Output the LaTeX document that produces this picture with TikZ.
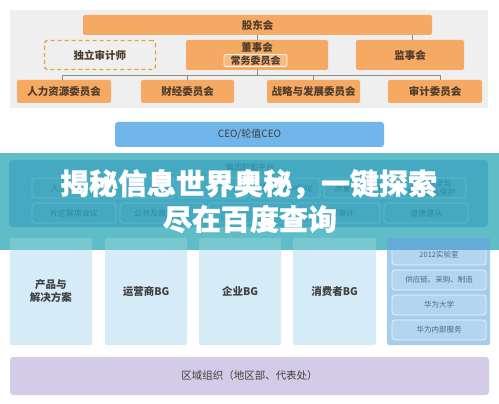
\documentclass[tikz,border=0pt]{standalone}
\usepackage{fontspec}
\setmainfont{Noto Sans CJK SC}
\newfontfamily\titlefont[FakeBold=1.1]{Noto Sans CJK SC}
\usetikzlibrary{calc}
\definecolor{orgfill}{HTML}{F5A962}
\definecolor{orgtext}{HTML}{4E3C2C}
\definecolor{toppanel}{HTML}{EFEFEF}
\definecolor{dashcol}{HTML}{E2A53A}
\definecolor{ceoblue}{HTML}{70B6EA}
\definecolor{bgblue}{HTML}{D5EBF8}
\definecolor{colblue}{HTML}{A6CDEC}
\definecolor{colinner}{HTML}{B3D5F0}
\definecolor{coltext}{HTML}{4A6A88}
\definecolor{regionfill}{HTML}{D4CCE6}
\definecolor{bandteal}{HTML}{5FBDC7}
\definecolor{bandstrip}{HTML}{78C8D1}
\definecolor{panelteal}{HTML}{45AAC1}
\definecolor{panelbox}{HTML}{62BBCD}
\definecolor{paneltext}{HTML}{2C8AA2}
\definecolor{linegray}{HTML}{8C8C8C}
\tikzset{
  obox/.style={fill=orgfill, rounded corners=2pt, inner sep=0pt, text=orgtext, font=\fontsize{10.5}{12}\selectfont\bfseries},
  dashbox/.style={draw=dashcol, dashed, dash pattern=on 4pt off 3pt, line width=1.3pt, fill=toppanel, rounded corners=3pt, inner sep=0pt, text=orgtext, font=\fontsize{10.5}{12}\selectfont\bfseries},
  innerbox/.style={fill=orgfill!80!white, draw=white!90!orgfill, line width=0.8pt, rounded corners=2pt, inner sep=0pt, text=orgtext, font=\fontsize{10}{12}\selectfont\bfseries},
  conn/.style={draw=linegray, line width=0.8pt},
  ceobox/.style={fill=ceoblue, rounded corners=3pt, inner sep=0pt, text=black!75, font=\fontsize{10}{12}\selectfont},
  bgbox/.style={fill=bgblue, rounded corners=2pt, inner sep=0pt, text=black!75, font=\fontsize{10.5}{13}\selectfont\bfseries, align=center},
  colbox/.style={fill=colinner, draw=white!75!colblue, line width=0.8pt, rounded corners=3pt, inner sep=0pt, text=coltext, font=\fontsize{7.5}{9}\selectfont},
  pbox/.style={draw=panelbox, line width=0.7pt, rounded corners=3pt, inner sep=0pt, text=paneltext, font=\fontsize{8}{9}\selectfont, align=center},
  regionbox/.style={fill=regionfill, rounded corners=3pt, inner sep=0pt, text=black!75, font=\fontsize{10.5}{12}\selectfont},
  titletext/.style={text=white, font=\titlefont\fontsize{29}{34}\selectfont\bfseries, inner sep=0pt}
}
\begin{document}
\begin{tikzpicture}[x=1pt,y=-1pt]
\useasboundingbox (0,0) rectangle (499,404);
\fill[white] (0,0) rectangle (499,404);
% top governance panel
\node[fill=toppanel, minimum width=478, minimum height=98, inner sep=0pt] (govpanel) at (249,59) {};
\node[obox, minimum width=349, minimum height=20] (gdh) at (257.5,25) {股东会};
\node[dashbox, minimum width=111, minimum height=29] (audit) at (100,55) {独立审计师};
\node[obox, minimum width=142, minimum height=30] (board) at (257,55) {};
\node[text=orgtext, font=\fontsize{10.5}{12}\selectfont\bfseries, inner sep=0pt] (boardlbl) at (257,47.5) {董事会};
\node[innerbox, minimum width=63, minimum height=12] (standing) at (255.5,60.5) {常务委员会};
\node[obox, minimum width=108, minimum height=30] (sup) at (410,55) {监事会};
\node[obox, minimum width=94, minimum height=23] (hr) at (64,91.5) {人力资源委员会};
\node[obox, minimum width=93, minimum height=23] (fin) at (187.5,91.5) {财经委员会};
\node[obox, minimum width=93, minimum height=23] (strat) at (313.5,91.5) {战略与发展委员会};
\node[obox, minimum width=94, minimum height=23] (aud) at (435,91.5) {审计委员会};
% connectors
\coordinate (busL) at (62,75);
\coordinate (busR) at (440,75);
\coordinate (busB) at (257,75);
\draw[conn] (gdh.south -| board.north) -- (board.north);
\draw[conn] (gdh.south -| 412,0) -- (sup.north -| 412,0);
\draw[conn] (board.south) -- (busB);
\draw[conn] (busL) -- (busR);
\draw[conn] (busL) -- (busL |- hr.north);
\draw[conn] (busB -| fin.north) -- (fin.north);
\draw[conn] (busB -| strat.north) -- (strat.north);
\draw[conn] (busR) -- (busR |- aud.north);
% CEO
\node[ceobox, minimum width=269, minimum height=25] (ceo) at (249.5,134.5) {CEO/轮值CEO};
% bottom BG boxes
\node[bgbox, minimum width=82, minimum height=107] (prod) at (51,291.5) {产品与\\解决方案};
\node[bgbox, minimum width=82, minimum height=107] (carrier) at (146,291.5) {运营商BG};
\node[bgbox, minimum width=82, minimum height=107] (ent) at (240,291.5) {企业BG};
\node[bgbox, minimum width=83, minimum height=107] (cons) at (334.5,291.5) {消费者BG};
\node[fill=colblue, rounded corners=2pt, minimum width=103, minimum height=107, inner sep=0pt] (col) at (438.5,291.5) {};
\node[colbox, minimum width=94, minimum height=20] (lab) at (439,255) {2012实验室};
\node[colbox, minimum width=94, minimum height=20] (supply) at (439,280) {供应链、采购、制造};
\node[colbox, minimum width=94, minimum height=20] (univ) at (439,305) {华为大学};
\node[colbox, minimum width=94, minimum height=20] (inner) at (439,330) {华为内部服务};
\node[regionbox, minimum width=479, minimum height=38] (region) at (249.5,376) {区域组织（地区部、代表处）};
% overlay band
\fill[bandteal] (0,153) rectangle (499,250);
\fill[bandstrip] (10,238) rectangle (92,250);
\fill[bandstrip] (105,238) rectangle (187,250);
\fill[bandstrip] (199,238) rectangle (281,250);
\fill[bandstrip] (293,238) rectangle (376,250);
\fill[bandstrip!85!blue] (387,238) rectangle (490,250);
% group function platform panel (under overlay)
\node[fill=panelteal, rounded corners=3pt, minimum width=479, minimum height=67, inner sep=0pt] (platform) at (248.5,193.5) {};
\node[text=paneltext, font=\fontsize{8}{9}\selectfont, inner sep=0pt] (platlbl) at (250,167) {集团职能平台};
\node[pbox, minimum width=69, minimum height=20] (p1) at (66.5,188) {人力资源};
\node[pbox, minimum width=69, minimum height=20] (p2) at (139.5,188) {};
\node[pbox, minimum width=69, minimum height=20] (p3) at (212.5,188) {};
\node[pbox, minimum width=69, minimum height=20] (p4) at (285.5,188) {战略Marketing};
\node[pbox, minimum width=69, minimum height=20] (p5) at (358.5,188) {质量与流程IT};
\node[pbox, minimum width=69, minimum height=20] (p6) at (431.5,188) {网络安全与\\用户隐私保护};
\node[pbox, minimum width=84, minimum height=20] (q1) at (74,213) {片区联席会议};
\node[pbox, minimum width=84, minimum height=20] (q2) at (162,213) {公共及政府事务};
\node[pbox, minimum width=84, minimum height=20] (q3) at (250,213) {};
\node[pbox, minimum width=84, minimum height=20] (q4) at (338,213) {内部审计};
\node[pbox, minimum width=84, minimum height=20] (q5) at (426,213) {道德遵从};
% title overlay
\node[titletext] (title1) at (248.5,184) {揭秘信息世界奥秘，一键探索};
\node[titletext] (title2) at (250,219) {尽在百度查询};
\end{tikzpicture}
\end{document}
